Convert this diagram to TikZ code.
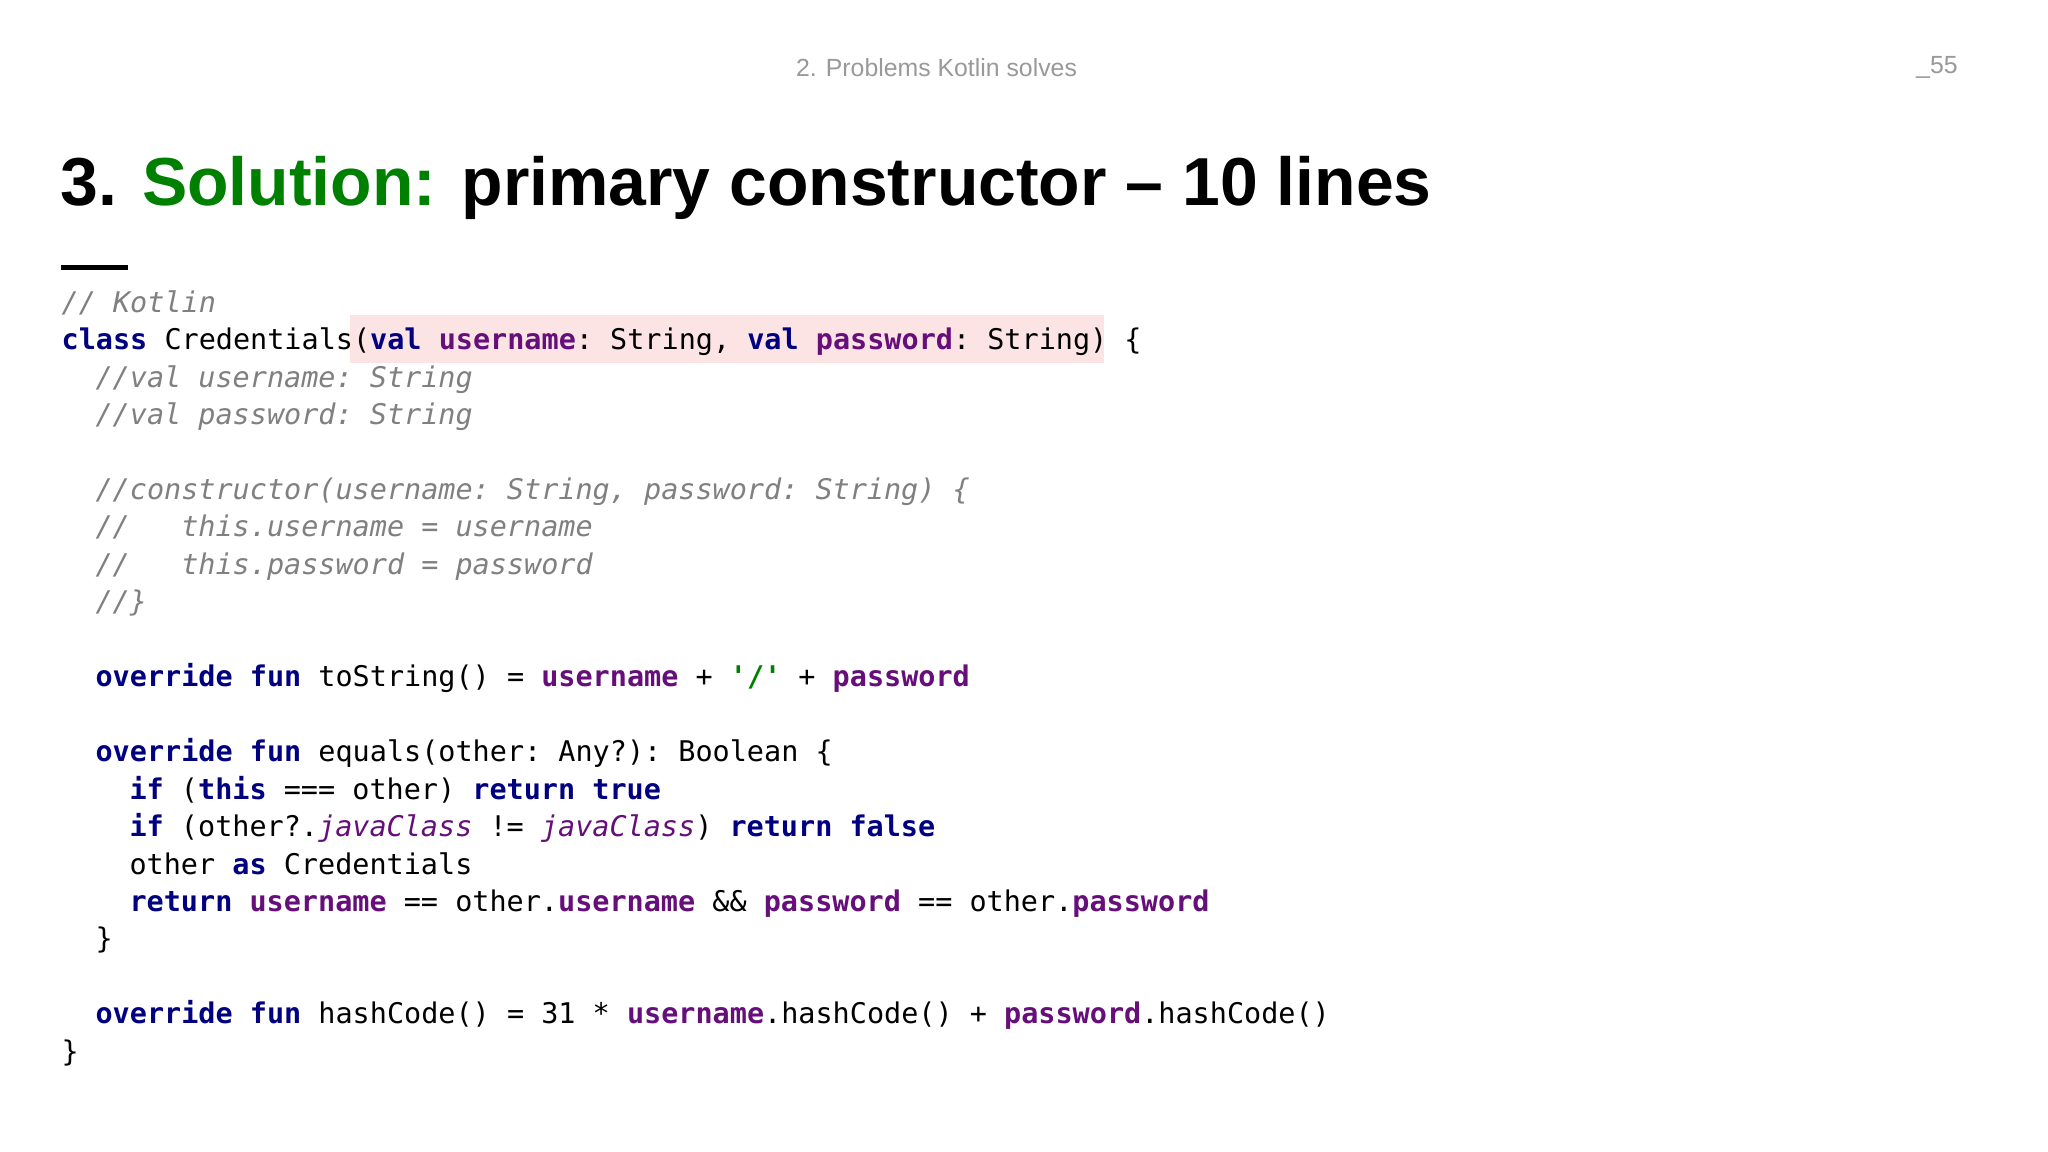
\documentclass[tikz,border=0pt]{standalone}
\usepackage{fontspec}
\setmainfont{Liberation Sans}
\setmonofont{DejaVu Sans Mono}
\definecolor{kw}{HTML}{000080}
\definecolor{pr}{HTML}{660E7A}
\definecolor{cm}{HTML}{808080}
\definecolor{st}{HTML}{008000}
\definecolor{hl}{HTML}{FCE4E4}
\newcommand{\kw}[1]{{\color{kw}\bfseries #1}}
\newcommand{\pr}[1]{{\color{pr}\bfseries #1}}
\newcommand{\pri}[1]{{\color{pr}\itshape #1}}
\newcommand{\cm}[1]{{\color{cm}\itshape #1}}
\newcommand{\st}[1]{{\color{st}\bfseries #1}}
\begin{document}
\begin{tikzpicture}[x=1pt,y=-1pt,
  code/.style={anchor=base west,inner sep=0pt,font=\fontsize{21.8}{26}\ttfamily}]
\useasboundingbox (0,0) rectangle (1568,882);
\fill[white] (0,0) rectangle (1568,882);
\node[anchor=center,text=gray!80,font=\fontsize{19}{22}\selectfont] (hdr) at (717,52) {2. Problems Kotlin solves};
\node[anchor=east,text=gray!80,font=\fontsize{19}{22}\selectfont,inner sep=0pt] (pg) at (1499,52) {\_55};
\node[anchor=base west,inner sep=0pt,font=\fontsize{52}{60}\bfseries] (title) at (46,157) {3. {\color{st}Solution:} primary constructor – 10 lines};
\fill[black] (47,203) rectangle (98,207);
\fill[hl] (268,241) rectangle (845,278);
\def\L#1{#1*28.68+239}
\node[code] (l0) at (47,{\L0}) {\cm{// Kotlin}};
\node[code] (l1) at (47,{\L1}) {\kw{class} Credentials(\kw{val} \pr{username}: String, \kw{val} \pr{password}: String) \{};
\node[code] (l2) at (73,{\L2}) {\cm{//val username: String}};
\node[code] (l3) at (73,{\L3}) {\cm{//val password: String}};
\node[code] (l5) at (73,{\L5}) {\cm{//constructor(username: String, password: String) \{}};
\node[code] (l6) at (73,{\L6}) {\cm{//\ \ \ this.username = username}};
\node[code] (l7) at (73,{\L7}) {\cm{//\ \ \ this.password = password}};
\node[code] (l8) at (73,{\L8}) {\cm{//\}}};
\node[code] (l10) at (73,{\L{10}}) {\kw{override} \kw{fun} toString() = \pr{username} + \st{'/'} + \pr{password}};
\node[code] (l12) at (73,{\L{12}}) {\kw{override} \kw{fun} equals(other: Any?): Boolean \{};
\node[code] (l13) at (99,{\L{13}}) {\kw{if} (\kw{this} === other) \kw{return} \kw{true}};
\node[code] (l14) at (99,{\L{14}}) {\kw{if} (other?.\pri{javaClass} != \pri{javaClass}) \kw{return} \kw{false}};
\node[code] (l15) at (99,{\L{15}}) {other \kw{as} Credentials};
\node[code] (l16) at (99,{\L{16}}) {\kw{return} \pr{username} == other.\pr{username} \&\& \pr{password} == other.\pr{password}};
\node[code] (l17) at (73,{\L{17}}) {\}};
\node[code] (l19) at (73,{\L{19}}) {\kw{override} \kw{fun} hashCode() = 31 * \pr{username}.hashCode() + \pr{password}.hashCode()};
\node[code] (l20) at (47,{\L{20}}) {\}};
\end{tikzpicture}
\end{document}
